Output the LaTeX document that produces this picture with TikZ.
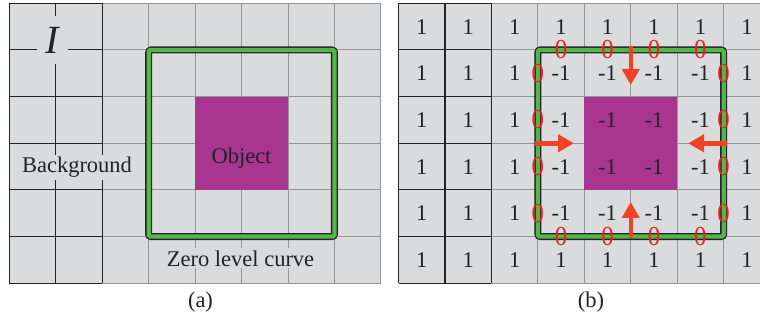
\documentclass[tikz,border=0pt]{standalone}
\usepackage{fontspec}
\setmainfont{Liberation Serif}
\usetikzlibrary{arrows.meta}
\definecolor{cellgray}{RGB}{218,219,221}
\definecolor{gridgray}{RGB}{150,150,150}
\definecolor{darkline}{RGB}{35,35,35}
\definecolor{objmag}{RGB}{168,54,145}
\definecolor{curvegreen}{RGB}{84,182,72}
\definecolor{arrred}{RGB}{240,66,36}
\definecolor{zerored}{RGB}{232,32,40}
\tikzset{
  gridline/.style={draw=gridgray, line width=0.9pt},
  darkgrid/.style={draw=darkline, line width=1.1pt},
  curveout/.style={draw=darkline, line width=7pt, rounded corners=2.5pt},
  curvein/.style={draw=curvegreen, line width=4.2pt, rounded corners=1.5pt},
  numtxt/.style={text=darkline, inner sep=0pt},
  zerotxt/.style={text=zerored, inner sep=0pt},
  redarrow/.style={draw=arrred, line width=4.5pt, -{Triangle[width=17pt,length=16pt]}},
  labeltxt/.style={text=darkline, inner sep=1pt, fill=cellgray},
}
\begin{document}
\begin{tikzpicture}[x=1pt,y=-1pt,font=\fontsize{22.5}{27}\selectfont]
\clip (0,0) rectangle (760,320);
\fill[white] (0,0) rectangle (760,320);

% ---------- panel (a)
\begin{scope}[shift={(9.3,3.3)}, x=46.45pt, y=-46.65pt]
  \fill[cellgray] (0,0) rectangle (8,6);
  \foreach \i in {3,...,8} \draw[gridline] (\i,0) -- (\i,6);
  \foreach \j in {0,...,6} \draw[gridline] (2,\j) -- (8,\j);
  \foreach \i in {0,1,2} \draw[darkgrid] (\i,0) -- (\i,6);
  \foreach \j in {0,...,6} \draw[darkgrid] (0,\j) -- (2,\j);
  \fill[objmag] (4,2) rectangle (6,4);
\end{scope}
\node[labeltxt, minimum width=31pt, minimum height=48pt, inner sep=0pt] (lblI) at (52.5,40) {\fontsize{40}{44}\selectfont\itshape I};
\node[labeltxt, anchor=base, inner sep=2pt] (lblbg) at (77,173) {Background};
\node[labeltxt, anchor=base, inner sep=2pt] (lblzero) at (240.5,266) {Zero level curve};
\node[text=darkline, anchor=base, inner sep=0pt] (lblobj) at (241.5,164) {Object};
\draw[curveout] (148.65,50) rectangle (334.45,236.6);
\draw[curvein] (148.65,50) rectangle (334.45,236.6);
\node[text=darkline, anchor=base, inner sep=0pt] (capa) at (200.5,307) {(a)};

% ---------- panel (b)
\begin{scope}[shift={(398.5,3.3)}, x=46.45pt, y=-46.65pt]
  \fill[cellgray] (0,0) rectangle (8,6);
  \foreach \i in {3,...,8} \draw[gridline] (\i,0) -- (\i,6);
  \foreach \j in {0,...,6} \draw[gridline] (2,\j) -- (8,\j);
  \foreach \i in {0,1,2} \draw[darkgrid] (\i,0) -- (\i,6);
  \foreach \j in {0,...,6} \draw[darkgrid] (0,\j) -- (2,\j);
  \fill[objmag] (4,2) rectangle (6,4);
  \foreach \c in {0,...,7}{
    \foreach \r in {0,...,5}{
      \pgfmathtruncatemacro{\inside}{(\c>2)&&(\c<7)&&(\r>0)&&(\r<5)}
      \ifnum\inside=1
        \node[numtxt] (n-\c-\r) at (\c+0.5,\r+0.5) {-1};
      \else
        \node[numtxt] (n-\c-\r) at (\c+0.5,\r+0.5) {1};
      \fi
    }
  }
  \draw[curveout] (3,1) rectangle (7,5);
  \draw[curvein] (3,1) rectangle (7,5);
  \foreach \c in {3,...,6}{
    \node[zerotxt] (zt-\c) at (\c+0.5,1) {\scalebox{1.1}[1.22]{0}};
    \node[zerotxt] (zb-\c) at (\c+0.5,5) {\scalebox{1.1}[1.22]{0}};
  }
  \foreach \r in {1,...,4}{
    \node[zerotxt] (zl-\r) at (3,\r+0.5) {\scalebox{1.1}[1.22]{0}};
    \node[zerotxt] (zr-\r) at (7,\r+0.5) {\scalebox{1.1}[1.22]{0}};
  }
\end{scope}
\coordinate (at1) at (630.75,46.5);
\coordinate (at2) at (630.75,85);
\coordinate (ab1) at (630.75,238.5);
\coordinate (ab2) at (630.75,202);
\coordinate (al1) at (534.5,143.3);
\coordinate (al2) at (574,143.3);
\coordinate (ar1) at (727,143.3);
\coordinate (ar2) at (688,143.3);
\draw[redarrow] (at1) -- (at2);
\draw[redarrow] (ab1) -- (ab2);
\draw[redarrow] (al1) -- (al2);
\draw[redarrow] (ar1) -- (ar2);
\node[text=darkline, anchor=base, inner sep=0pt] (capb) at (591,307) {(b)};
\end{tikzpicture}
\end{document}
